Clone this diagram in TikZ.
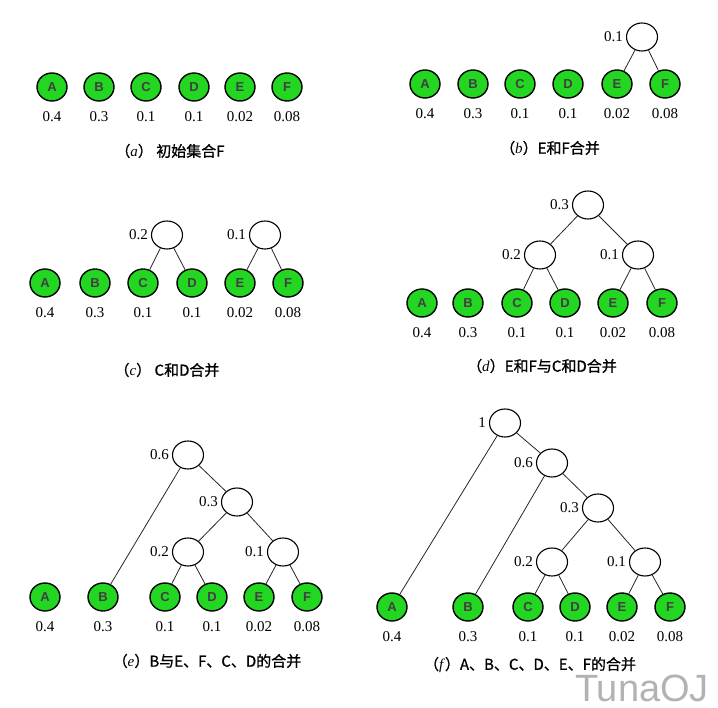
\documentclass[tikz,border=0pt]{standalone}
\usepackage{fontspec}
\setmainfont{Liberation Serif}
\setsansfont{Liberation Sans}
\newfontfamily\cjk{Noto Sans CJK SC}[FakeBold=1]
\usetikzlibrary{shapes.geometric}
\definecolor{leafgreen}{RGB}{34,214,34}
\tikzset{
  leaf/.style={ellipse, draw=black, line width=1.4pt, fill=leafgreen,
    minimum width=30pt, minimum height=28pt, inner sep=0pt,
    font=\fontsize{13}{13}\selectfont\sffamily\bfseries, text=black!75},
  merged/.style={ellipse, draw=black, line width=1.1pt, fill=white,
    minimum width=31pt, minimum height=28pt, inner sep=0pt},
  val/.style={font=\fontsize{15}{15}\selectfont, inner sep=1pt},
  prob/.style={label={[val,label distance=9pt]below:#1}},
  wt/.style={label={[val,label distance=2pt]left:#1}},
  link/.style={draw=black!85, line width=0.8pt},
  captext/.style={font=\fontsize{15}{15}\selectfont},
}

\begin{document}
\begin{tikzpicture}[x=1pt, y=-1pt]
  \useasboundingbox (0,0) rectangle (718,708);

  % (a) initial set
  \node[leaf, prob=0.4]  (aA) at (52,87)  {A};
  \node[leaf, prob=0.3]  (aB) at (99,87)  {B};
  \node[leaf, prob=0.1]  (aC) at (146,87) {C};
  \node[leaf, prob=0.1]  (aD) at (194,87) {D};
  \node[leaf, prob=0.02] (aE) at (240,87) {E};
  \node[leaf, prob=0.08] (aF) at (287,87) {F};
  \node[captext] (capa) at (170,151) {{\cjk （}\textit{a}{\cjk ） 初始集合F}};

  % (b) E and F
  \node[leaf, prob=0.4]  (bA) at (425,84) {A};
  \node[leaf, prob=0.3]  (bB) at (473,84) {B};
  \node[leaf, prob=0.1]  (bC) at (520,84) {C};
  \node[leaf, prob=0.1]  (bD) at (568,84) {D};
  \node[leaf, prob=0.02] (bE) at (617,84) {E};
  \node[leaf, prob=0.08] (bF) at (665,84) {F};
  \node[merged, wt=0.1]  (bEF) at (642,37) {};
  \draw[link] (bEF) -- (bE);
  \draw[link] (bEF) -- (bF);
  \node[captext] (capb) at (550,148) {{\cjk （}\textit{b}{\cjk ）E和F合并}};

  % (c) C and D
  \node[leaf, prob=0.4]  (cA) at (45,283)  {A};
  \node[leaf, prob=0.3]  (cB) at (95,283)  {B};
  \node[leaf, prob=0.1]  (cC) at (143,283) {C};
  \node[leaf, prob=0.1]  (cD) at (192,283) {D};
  \node[leaf, prob=0.02] (cE) at (240,283) {E};
  \node[leaf, prob=0.08] (cF) at (288,283) {F};
  \node[merged, wt=0.2]  (cCD) at (167,235) {};
  \node[merged, wt=0.1]  (cEF) at (265,235) {};
  \draw[link] (cCD) -- (cC);
  \draw[link] (cCD) -- (cD);
  \draw[link] (cEF) -- (cE);
  \draw[link] (cEF) -- (cF);
  \node[captext] (capc) at (167,370) {{\cjk （}\textit{c}{\cjk ） C和D合并}};

  % (d) EF with CD
  \node[leaf, prob=0.4]  (dA) at (422,303) {A};
  \node[leaf, prob=0.3]  (dB) at (468,303) {B};
  \node[leaf, prob=0.1]  (dC) at (517,303) {C};
  \node[leaf, prob=0.1]  (dD) at (565,303) {D};
  \node[leaf, prob=0.02] (dE) at (613,303) {E};
  \node[leaf, prob=0.08] (dF) at (662,303) {F};
  \node[merged, wt=0.2]  (dCD) at (540,255) {};
  \node[merged, wt=0.1]  (dEF) at (638,255) {};
  \node[merged, wt=0.3]  (dCF) at (588,205) {};
  \draw[link] (dCD) -- (dC);
  \draw[link] (dCD) -- (dD);
  \draw[link] (dEF) -- (dE);
  \draw[link] (dEF) -- (dF);
  \draw[link] (dCF) -- (dCD);
  \draw[link] (dCF) -- (dEF);
  \node[captext] (capd) at (542,366) {{\cjk （}\textit{d}{\cjk ）E和F与C和D合并}};

  % (e) B with the rest
  \node[leaf, prob=0.4]  (eA) at (45,597)  {A};
  \node[leaf, prob=0.3]  (eB) at (103,597) {B};
  \node[leaf, prob=0.1]  (eC) at (165,597) {C};
  \node[leaf, prob=0.1]  (eD) at (212,597) {D};
  \node[leaf, prob=0.02] (eE) at (259,597) {E};
  \node[leaf, prob=0.08] (eF) at (307,597) {F};
  \node[merged, wt=0.2]  (eCD) at (188,552) {};
  \node[merged, wt=0.1]  (eEF) at (283,552) {};
  \node[merged, wt=0.3]  (eCF) at (237,502) {};
  \node[merged, wt=0.6]  (eBF) at (188,455) {};
  \draw[link] (eCD) -- (eC);
  \draw[link] (eCD) -- (eD);
  \draw[link] (eEF) -- (eE);
  \draw[link] (eEF) -- (eF);
  \draw[link] (eCF) -- (eCD);
  \draw[link] (eCF) -- (eEF);
  \draw[link] (eBF) -- (eB);
  \draw[link] (eBF) -- (eCF);
  \node[captext] (cape) at (207,661) {{\cjk （}\textit{e}{\cjk ）B与E、F、C、D的合并}};

  % (f) all merged
  \node[leaf, prob=0.4]  (fA) at (392,607) {A};
  \node[leaf, prob=0.3]  (fB) at (468,607) {B};
  \node[leaf, prob=0.1]  (fC) at (528,607) {C};
  \node[leaf, prob=0.1]  (fD) at (575,607) {D};
  \node[leaf, prob=0.02] (fE) at (622,607) {E};
  \node[leaf, prob=0.08] (fF) at (670,607) {F};
  \node[merged, wt=0.2]  (fCD) at (552,562) {};
  \node[merged, wt=0.1]  (fEF) at (645,562) {};
  \node[merged, wt=0.3]  (fCF) at (598,508) {};
  \node[merged, wt=0.6]  (fBF) at (552,463) {};
  \node[merged, wt=1]    (fAF) at (505,423) {};
  \draw[link] (fCD) -- (fC);
  \draw[link] (fCD) -- (fD);
  \draw[link] (fEF) -- (fE);
  \draw[link] (fEF) -- (fF);
  \draw[link] (fCF) -- (fCD);
  \draw[link] (fCF) -- (fEF);
  \draw[link] (fBF) -- (fB);
  \draw[link] (fBF) -- (fCF);
  \draw[link] (fAF) -- (fA);
  \draw[link] (fAF) -- (fBF);
  \node[captext] (capf) at (530,665) {{\cjk （}\textit{f}{\cjk ）A、B、C、D、E、F的合并}};

  % watermark
  \node[font=\fontsize{38}{38}\selectfont\sffamily, text=black!30] (mark) at (642,688) {TunaOJ};
\end{tikzpicture}
\end{document}
